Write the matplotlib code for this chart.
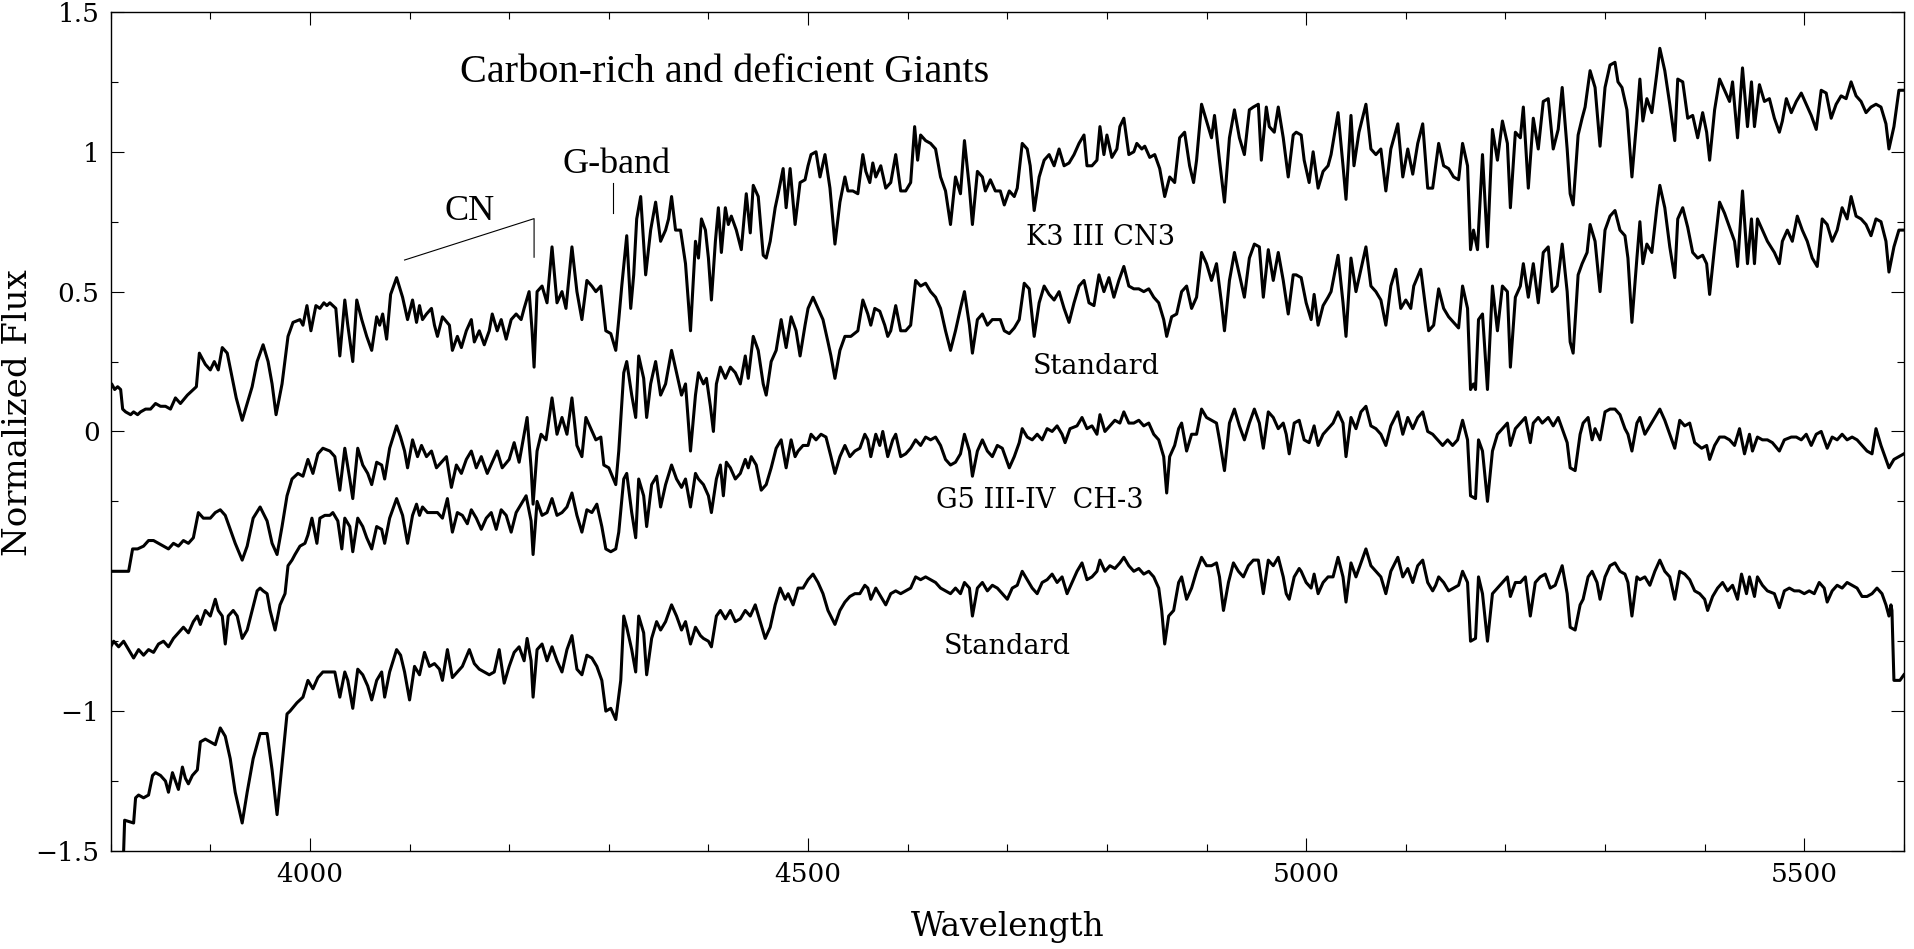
import numpy as np
import matplotlib.pyplot as plt
from matplotlib.ticker import FixedLocator, FixedFormatter, MultipleLocator

# wavelength (A), normalized flux (offset for display)
k3_cn3 = np.array([
    [3798, 0.13], [3801, 0.17], [3804, 0.15], [3807, 0.16], [3810, 0.15], [3812, 0.08], [3815, 0.07],
    [3820, 0.06], [3823, 0.07], [3827, 0.06], [3830, 0.07], [3835, 0.08], [3840, 0.08], [3845, 0.10],
    [3850, 0.09], [3855, 0.09], [3860, 0.08], [3865, 0.12], [3870, 0.10], [3877, 0.13], [3883, 0.15],
    [3886, 0.16], [3889, 0.28], [3895, 0.24], [3900, 0.22], [3904, 0.25], [3908, 0.22], [3912, 0.30],
    [3917, 0.28], [3922, 0.19], [3926, 0.12], [3932, 0.04], [3937, 0.10], [3942, 0.16], [3947, 0.25],
    [3953, 0.31], [3958, 0.25], [3962, 0.17], [3966, 0.06], [3972, 0.17], [3978, 0.34], [3983, 0.39],
    [3990, 0.40], [3993, 0.38], [3997, 0.45], [4001, 0.36], [4006, 0.45], [4010, 0.44], [4014, 0.46],
    [4017, 0.45], [4020, 0.46], [4023, 0.45], [4026, 0.44], [4030, 0.27], [4035, 0.47], [4038, 0.38],
    [4043, 0.25], [4047, 0.47], [4052, 0.40], [4057, 0.34], [4062, 0.29], [4067, 0.41], [4070, 0.38],
    [4073, 0.42], [4077, 0.33], [4081, 0.49], [4087, 0.55], [4093, 0.48], [4098, 0.40], [4103, 0.47],
    [4107, 0.39], [4110, 0.45], [4113, 0.40], [4117, 0.42], [4122, 0.44], [4125, 0.38], [4128, 0.34],
    [4133, 0.41], [4140, 0.38], [4143, 0.29], [4148, 0.34], [4152, 0.30], [4157, 0.36], [4162, 0.40],
    [4165, 0.32], [4170, 0.36], [4175, 0.31], [4180, 0.36], [4183, 0.42], [4188, 0.36], [4192, 0.40],
    [4197, 0.33], [4202, 0.40], [4207, 0.42], [4212, 0.40], [4215, 0.44], [4220, 0.50], [4223, 0.36],
    [4225, 0.23], [4228, 0.50], [4233, 0.52], [4238, 0.46], [4243, 0.66], [4248, 0.46], [4253, 0.50],
    [4257, 0.44], [4263, 0.66], [4268, 0.50], [4273, 0.40], [4278, 0.54], [4283, 0.52], [4287, 0.50],
    [4292, 0.52], [4297, 0.36], [4302, 0.35], [4307, 0.29], [4310, 0.40], [4313, 0.52], [4318, 0.70],
    [4322, 0.44], [4325, 0.56], [4328, 0.76], [4332, 0.84], [4337, 0.56], [4342, 0.72], [4347, 0.82],
    [4352, 0.68], [4357, 0.72], [4360, 0.76], [4363, 0.84], [4367, 0.72], [4372, 0.72], [4377, 0.60],
    [4382, 0.36], [4387, 0.68], [4390, 0.62], [4393, 0.76], [4397, 0.72], [4400, 0.62], [4403, 0.47],
    [4407, 0.68], [4410, 0.80], [4413, 0.64], [4417, 0.80], [4420, 0.74], [4423, 0.77], [4428, 0.72],
    [4433, 0.65], [4438, 0.85], [4442, 0.71], [4445, 0.88], [4450, 0.84], [4455, 0.63], [4458, 0.62],
    [4462, 0.68], [4467, 0.80], [4470, 0.85], [4475, 0.94], [4478, 0.80], [4482, 0.94], [4487, 0.74],
    [4492, 0.89], [4497, 0.90], [4500, 0.95], [4503, 0.99], [4508, 1.00], [4512, 0.91], [4517, 0.99],
    [4522, 0.87], [4527, 0.67], [4532, 0.82], [4537, 0.91], [4540, 0.86], [4545, 0.86], [4550, 0.85],
    [4555, 0.99], [4558, 0.93], [4562, 0.89], [4565, 0.96], [4568, 0.91], [4573, 0.95], [4578, 0.87],
    [4583, 0.89], [4588, 0.99], [4593, 0.86], [4598, 0.86], [4603, 0.89], [4607, 1.09], [4610, 0.97],
    [4613, 1.06], [4618, 1.04], [4623, 1.03], [4628, 1.01], [4633, 0.91], [4638, 0.86], [4643, 0.74],
    [4648, 0.91], [4653, 0.85], [4657, 1.04], [4662, 0.87], [4665, 0.74], [4670, 0.93], [4675, 0.91],
    [4678, 0.86], [4683, 0.90], [4688, 0.86], [4693, 0.86], [4697, 0.81], [4702, 0.86], [4707, 0.84],
    [4710, 0.87], [4715, 1.03], [4720, 1.01], [4723, 0.95], [4727, 0.79], [4732, 0.91], [4737, 0.97],
    [4742, 0.99], [4747, 0.95], [4752, 1.01], [4757, 0.95], [4762, 0.96], [4767, 0.99], [4772, 1.03],
    [4777, 1.06], [4780, 0.95], [4785, 0.95], [4790, 0.97], [4793, 1.09], [4797, 0.99], [4800, 1.06],
    [4805, 0.98], [4810, 1.01], [4813, 1.09], [4817, 1.12], [4822, 0.99], [4827, 1.00], [4830, 1.03],
    [4835, 1.01], [4838, 1.02], [4843, 0.98], [4848, 0.99], [4853, 0.94], [4858, 0.84], [4863, 0.91],
    [4868, 0.89], [4873, 1.05], [4878, 1.07], [4883, 0.95], [4887, 0.89], [4890, 0.97], [4895, 1.17],
    [4900, 1.11], [4905, 1.05], [4908, 1.13], [4913, 0.97], [4918, 0.82], [4923, 1.05], [4928, 1.15],
    [4933, 1.05], [4938, 0.99], [4943, 1.15], [4947, 1.16], [4952, 1.17], [4955, 0.97], [4960, 1.16],
    [4963, 1.09], [4968, 1.07], [4972, 1.16], [4977, 1.05], [4982, 0.91], [4987, 1.06], [4990, 1.07],
    [4995, 1.06], [4998, 0.97], [5003, 0.89], [5007, 1.00], [5012, 0.87], [5017, 0.93], [5022, 0.95],
    [5025, 0.99], [5032, 1.14], [5037, 0.95], [5040, 0.83], [5045, 1.13], [5048, 0.95], [5053, 1.07],
    [5060, 1.17], [5065, 1.01], [5070, 0.99], [5075, 1.01], [5080, 0.86], [5085, 1.01], [5092, 1.10],
    [5097, 0.91], [5102, 1.01], [5107, 0.92], [5112, 1.03], [5117, 1.10], [5122, 0.87], [5127, 0.87],
    [5130, 0.95], [5133, 1.03], [5138, 0.95], [5143, 0.94], [5148, 0.91], [5153, 0.90], [5157, 1.03],
    [5162, 0.95], [5165, 0.65], [5168, 0.72], [5172, 0.65], [5177, 0.99], [5182, 0.66], [5187, 1.08],
    [5192, 0.97], [5197, 1.11], [5202, 1.03], [5205, 0.80], [5210, 1.07], [5215, 1.05], [5218, 1.16],
    [5223, 0.87], [5228, 1.12], [5233, 1.01], [5238, 1.18], [5243, 1.19], [5248, 1.01], [5253, 1.08],
    [5257, 1.23], [5262, 1.01], [5265, 0.85], [5268, 0.81], [5273, 1.06], [5277, 1.12], [5280, 1.16],
    [5285, 1.29], [5290, 1.23], [5295, 1.02], [5300, 1.23], [5305, 1.31], [5310, 1.32], [5313, 1.25],
    [5317, 1.23], [5322, 1.15], [5327, 0.91], [5332, 1.12], [5335, 1.26], [5338, 1.11], [5342, 1.19],
    [5347, 1.14], [5352, 1.28], [5355, 1.37], [5360, 1.29], [5365, 1.17], [5370, 1.04], [5373, 1.26],
    [5378, 1.25], [5383, 1.12], [5388, 1.13], [5393, 1.05], [5398, 1.14], [5402, 1.07], [5405, 0.97],
    [5410, 1.15], [5415, 1.26], [5420, 1.22], [5425, 1.18], [5428, 1.25], [5433, 1.05], [5438, 1.30],
    [5443, 1.09], [5447, 1.25], [5450, 1.09], [5455, 1.24], [5460, 1.18], [5465, 1.19], [5470, 1.12],
    [5475, 1.07], [5478, 1.11], [5482, 1.19], [5487, 1.14], [5492, 1.18], [5497, 1.21], [5502, 1.17],
    [5507, 1.13], [5512, 1.08], [5517, 1.22], [5522, 1.21], [5527, 1.12], [5532, 1.17], [5537, 1.20],
    [5542, 1.19], [5547, 1.25], [5552, 1.20], [5557, 1.18], [5562, 1.14], [5567, 1.16], [5572, 1.17],
    [5577, 1.16], [5582, 1.10], [5585, 1.01], [5590, 1.09], [5595, 1.22], [5600, 1.22],
])

standard_k3 = np.array([
    [3798, -0.50], [3818, -0.50], [3822, -0.42], [3827, -0.42], [3833, -0.41], [3838, -0.39],
    [3843, -0.39], [3848, -0.40], [3853, -0.41], [3858, -0.42], [3863, -0.40], [3868, -0.41],
    [3873, -0.39], [3878, -0.40], [3883, -0.38], [3888, -0.29], [3893, -0.31], [3900, -0.31],
    [3905, -0.29], [3910, -0.28], [3915, -0.30], [3920, -0.35], [3925, -0.40], [3932, -0.46],
    [3937, -0.41], [3943, -0.31], [3950, -0.27], [3957, -0.32], [3962, -0.40], [3967, -0.44],
    [3972, -0.34], [3977, -0.23], [3982, -0.17], [3988, -0.15], [3993, -0.16], [3998, -0.10],
    [4003, -0.15], [4008, -0.08], [4013, -0.06], [4020, -0.07], [4025, -0.09], [4030, -0.21],
    [4035, -0.06], [4040, -0.17], [4043, -0.24], [4048, -0.06], [4053, -0.12], [4058, -0.15],
    [4062, -0.19], [4067, -0.11], [4072, -0.12], [4075, -0.17], [4080, -0.06], [4087, 0.02],
    [4091, -0.02], [4095, -0.07], [4098, -0.13], [4103, -0.03], [4108, -0.09], [4112, -0.05],
    [4117, -0.09], [4122, -0.07], [4127, -0.13], [4132, -0.11], [4137, -0.09], [4142, -0.20],
    [4147, -0.12], [4152, -0.15], [4157, -0.10], [4162, -0.07], [4167, -0.13], [4172, -0.09],
    [4178, -0.15], [4183, -0.11], [4188, -0.07], [4193, -0.13], [4200, -0.10], [4205, -0.04],
    [4210, -0.11], [4215, -0.01], [4218, 0.05], [4222, -0.13], [4224, -0.26], [4228, -0.07],
    [4232, -0.01], [4237, -0.03], [4243, 0.12], [4248, -0.01], [4253, 0.05], [4258, -0.01],
    [4263, 0.12], [4268, -0.05], [4273, -0.09], [4277, 0.05], [4282, 0.01], [4287, -0.03],
    [4292, -0.02], [4295, -0.12], [4300, -0.13], [4307, -0.19], [4310, -0.07], [4315, 0.21],
    [4318, 0.25], [4323, 0.13], [4327, 0.05], [4330, 0.27], [4335, 0.19], [4338, 0.05],
    [4342, 0.17], [4347, 0.25], [4352, 0.13], [4357, 0.17], [4363, 0.29], [4368, 0.21],
    [4373, 0.13], [4377, 0.17], [4382, -0.07], [4387, 0.13], [4390, 0.21], [4395, 0.17],
    [4398, 0.19], [4402, 0.09], [4405, 0.00], [4408, 0.17], [4412, 0.23], [4417, 0.19],
    [4422, 0.23], [4427, 0.21], [4432, 0.17], [4437, 0.27], [4440, 0.19], [4445, 0.34],
    [4450, 0.29], [4455, 0.17], [4458, 0.13], [4463, 0.25], [4468, 0.29], [4473, 0.40],
    [4478, 0.30], [4483, 0.41], [4488, 0.36], [4492, 0.27], [4497, 0.38], [4500, 0.44],
    [4505, 0.48], [4510, 0.44], [4515, 0.40], [4520, 0.32], [4523, 0.27], [4527, 0.19],
    [4532, 0.29], [4537, 0.34], [4543, 0.34], [4550, 0.36], [4555, 0.47], [4560, 0.42],
    [4563, 0.38], [4567, 0.44], [4572, 0.43], [4577, 0.38], [4580, 0.34], [4583, 0.36],
    [4588, 0.45], [4593, 0.36], [4598, 0.36], [4603, 0.38], [4608, 0.54], [4613, 0.52],
    [4618, 0.53], [4623, 0.50], [4628, 0.48], [4633, 0.44], [4638, 0.36], [4643, 0.29],
    [4648, 0.36], [4653, 0.44], [4657, 0.50], [4662, 0.38], [4665, 0.28], [4670, 0.40],
    [4675, 0.42], [4680, 0.38], [4685, 0.40], [4690, 0.40], [4693, 0.40], [4697, 0.36],
    [4702, 0.35], [4707, 0.37], [4712, 0.40], [4717, 0.53], [4722, 0.51], [4727, 0.34],
    [4732, 0.46], [4737, 0.52], [4742, 0.49], [4747, 0.47], [4752, 0.50], [4757, 0.44],
    [4762, 0.39], [4767, 0.46], [4772, 0.52], [4777, 0.54], [4782, 0.46], [4787, 0.45],
    [4792, 0.56], [4797, 0.50], [4802, 0.55], [4807, 0.48], [4812, 0.54], [4817, 0.59],
    [4822, 0.52], [4827, 0.51], [4832, 0.51], [4837, 0.50], [4842, 0.51], [4847, 0.48],
    [4852, 0.46], [4857, 0.40], [4860, 0.34], [4865, 0.41], [4870, 0.42], [4875, 0.50],
    [4880, 0.52], [4885, 0.44], [4890, 0.48], [4895, 0.64], [4900, 0.60], [4905, 0.54],
    [4910, 0.60], [4915, 0.46], [4918, 0.36], [4923, 0.54], [4928, 0.64], [4933, 0.56],
    [4938, 0.48], [4943, 0.62], [4948, 0.67], [4953, 0.66], [4957, 0.48], [4962, 0.65],
    [4967, 0.54], [4972, 0.64], [4977, 0.54], [4982, 0.42], [4987, 0.56], [4990, 0.56],
    [4995, 0.55], [5000, 0.46], [5005, 0.40], [5008, 0.49], [5012, 0.38], [5017, 0.45],
    [5022, 0.48], [5025, 0.50], [5032, 0.63], [5037, 0.46], [5040, 0.34], [5045, 0.62],
    [5050, 0.50], [5055, 0.58], [5060, 0.66], [5065, 0.52], [5070, 0.50], [5075, 0.47],
    [5080, 0.38], [5085, 0.52], [5090, 0.58], [5095, 0.44], [5100, 0.47], [5105, 0.44],
    [5108, 0.52], [5115, 0.58], [5120, 0.44], [5123, 0.36], [5128, 0.38], [5133, 0.51],
    [5138, 0.44], [5143, 0.41], [5148, 0.39], [5153, 0.37], [5157, 0.52], [5162, 0.44],
    [5165, 0.15], [5168, 0.17], [5170, 0.15], [5173, 0.40], [5177, 0.42], [5182, 0.15],
    [5187, 0.52], [5192, 0.36], [5197, 0.52], [5202, 0.50], [5205, 0.23], [5210, 0.48],
    [5215, 0.52], [5218, 0.60], [5223, 0.48], [5228, 0.60], [5233, 0.46], [5238, 0.64],
    [5243, 0.66], [5247, 0.50], [5252, 0.52], [5257, 0.67], [5262, 0.50], [5265, 0.32],
    [5268, 0.28], [5273, 0.56], [5277, 0.60], [5282, 0.64], [5285, 0.74], [5290, 0.68],
    [5295, 0.50], [5300, 0.72], [5305, 0.77], [5310, 0.79], [5315, 0.72], [5320, 0.70],
    [5323, 0.62], [5327, 0.39], [5332, 0.62], [5335, 0.75], [5338, 0.60], [5342, 0.67],
    [5347, 0.64], [5352, 0.80], [5355, 0.88], [5360, 0.80], [5365, 0.66], [5370, 0.55],
    [5373, 0.76], [5378, 0.80], [5383, 0.73], [5388, 0.64], [5393, 0.62], [5398, 0.63],
    [5402, 0.60], [5405, 0.49], [5410, 0.66], [5415, 0.82], [5420, 0.78], [5425, 0.73],
    [5430, 0.68], [5433, 0.59], [5438, 0.86], [5443, 0.60], [5447, 0.76], [5450, 0.60],
    [5453, 0.76], [5458, 0.72], [5463, 0.68], [5470, 0.64], [5475, 0.60], [5478, 0.68],
    [5483, 0.72], [5488, 0.68], [5493, 0.77], [5498, 0.72], [5503, 0.68], [5508, 0.62],
    [5513, 0.59], [5518, 0.76], [5523, 0.74], [5528, 0.68], [5533, 0.72], [5538, 0.80],
    [5543, 0.76], [5547, 0.84], [5552, 0.77], [5557, 0.76], [5562, 0.74], [5567, 0.70],
    [5572, 0.76], [5577, 0.75], [5582, 0.68], [5585, 0.57], [5590, 0.66], [5595, 0.72],
    [5600, 0.72],
])

g5_ch3 = np.array([
    [3798, -0.87], [3800, -0.77], [3803, -0.75], [3808, -0.77], [3813, -0.75], [3818, -0.78],
    [3823, -0.81], [3828, -0.78], [3833, -0.80], [3838, -0.78], [3843, -0.79], [3848, -0.76],
    [3853, -0.75], [3858, -0.77], [3863, -0.74], [3868, -0.72], [3873, -0.70], [3878, -0.72],
    [3883, -0.68], [3887, -0.66], [3890, -0.69], [3895, -0.64], [3900, -0.66], [3905, -0.60],
    [3908, -0.64], [3912, -0.66], [3915, -0.76], [3918, -0.66], [3923, -0.64], [3927, -0.66],
    [3932, -0.74], [3937, -0.71], [3942, -0.64], [3947, -0.57], [3950, -0.56], [3953, -0.57],
    [3957, -0.58], [3960, -0.64], [3965, -0.71], [3970, -0.62], [3975, -0.58], [3978, -0.48],
    [3982, -0.46], [3985, -0.44], [3990, -0.41], [3995, -0.40], [3998, -0.37], [4002, -0.31],
    [4007, -0.40], [4010, -0.31], [4015, -0.30], [4020, -0.30], [4023, -0.29], [4028, -0.32],
    [4032, -0.42], [4035, -0.31], [4040, -0.34], [4043, -0.43], [4048, -0.31], [4053, -0.34],
    [4057, -0.38], [4062, -0.42], [4067, -0.34], [4072, -0.35], [4075, -0.40], [4080, -0.31],
    [4087, -0.24], [4093, -0.30], [4098, -0.40], [4103, -0.30], [4107, -0.26], [4110, -0.30],
    [4113, -0.27], [4118, -0.29], [4123, -0.29], [4128, -0.29], [4133, -0.31], [4138, -0.24],
    [4143, -0.36], [4148, -0.29], [4153, -0.30], [4158, -0.33], [4162, -0.28], [4167, -0.31],
    [4172, -0.35], [4177, -0.31], [4182, -0.29], [4187, -0.35], [4192, -0.28], [4197, -0.30],
    [4202, -0.36], [4207, -0.29], [4212, -0.26], [4217, -0.23], [4222, -0.32], [4224, -0.44],
    [4228, -0.25], [4233, -0.30], [4238, -0.29], [4243, -0.24], [4248, -0.30], [4253, -0.29],
    [4258, -0.27], [4263, -0.22], [4268, -0.30], [4273, -0.36], [4278, -0.28], [4283, -0.29],
    [4288, -0.26], [4293, -0.34], [4297, -0.42], [4302, -0.43], [4307, -0.42], [4310, -0.36],
    [4315, -0.17], [4318, -0.15], [4323, -0.29], [4327, -0.38], [4330, -0.17], [4335, -0.23],
    [4338, -0.34], [4343, -0.19], [4348, -0.16], [4352, -0.27], [4357, -0.19], [4363, -0.12],
    [4368, -0.17], [4373, -0.20], [4377, -0.17], [4382, -0.27], [4387, -0.15], [4390, -0.17],
    [4395, -0.19], [4400, -0.23], [4403, -0.29], [4408, -0.17], [4412, -0.12], [4415, -0.23],
    [4418, -0.11], [4422, -0.13], [4427, -0.17], [4432, -0.15], [4437, -0.10], [4440, -0.13],
    [4443, -0.09], [4448, -0.12], [4453, -0.21], [4458, -0.19], [4463, -0.13], [4468, -0.06],
    [4473, -0.03], [4478, -0.13], [4483, -0.03], [4487, -0.09], [4490, -0.07], [4495, -0.05],
    [4500, -0.05], [4503, -0.01], [4508, -0.03], [4513, -0.01], [4518, -0.02], [4523, -0.09],
    [4527, -0.15], [4532, -0.09], [4537, -0.05], [4542, -0.09], [4547, -0.07], [4552, -0.06],
    [4557, -0.01], [4560, -0.03], [4563, -0.09], [4568, -0.01], [4572, -0.05], [4575, 0.00],
    [4580, -0.09], [4585, -0.03], [4588, -0.01], [4593, -0.09], [4598, -0.08], [4603, -0.06],
    [4608, -0.03], [4613, -0.05], [4618, -0.02], [4623, -0.03], [4628, -0.02], [4633, -0.05],
    [4638, -0.10], [4643, -0.12], [4648, -0.11], [4653, -0.08], [4657, -0.01], [4662, -0.07],
    [4665, -0.16], [4670, -0.07], [4675, -0.03], [4680, -0.07], [4685, -0.09], [4690, -0.05],
    [4695, -0.06], [4698, -0.09], [4702, -0.13], [4707, -0.09], [4712, -0.04], [4715, 0.01],
    [4720, -0.02], [4725, -0.03], [4730, -0.01], [4735, -0.03], [4740, 0.01], [4745, 0.00],
    [4750, 0.02], [4755, -0.01], [4758, -0.04], [4763, 0.01], [4770, 0.02], [4775, 0.05],
    [4780, 0.01], [4785, 0.02], [4790, -0.01], [4793, 0.06], [4798, 0.00], [4803, 0.02],
    [4808, 0.04], [4813, 0.03], [4817, 0.07], [4822, 0.03], [4827, 0.03], [4832, 0.04],
    [4837, 0.02], [4842, 0.03], [4847, -0.01], [4852, -0.03], [4857, -0.09], [4860, -0.22],
    [4863, -0.09], [4868, -0.05], [4872, 0.01], [4875, 0.03], [4880, -0.07], [4885, -0.01],
    [4890, -0.01], [4895, 0.08], [4900, 0.05], [4905, 0.04], [4910, 0.03], [4913, -0.03],
    [4918, -0.14], [4923, 0.03], [4928, 0.08], [4933, 0.02], [4938, -0.03], [4943, 0.03],
    [4948, 0.08], [4953, 0.03], [4957, -0.06], [4962, 0.07], [4967, 0.05], [4972, 0.01],
    [4977, 0.03], [4980, -0.01], [4983, -0.08], [4988, 0.03], [4993, 0.04], [4998, -0.03],
    [5003, -0.04], [5008, 0.02], [5012, -0.05], [5017, -0.01], [5022, 0.01], [5027, 0.03],
    [5032, 0.07], [5037, 0.03], [5040, -0.09], [5045, 0.05], [5050, 0.01], [5055, 0.07],
    [5060, 0.09], [5065, 0.02], [5070, 0.01], [5075, -0.01], [5080, -0.05], [5085, 0.02],
    [5092, 0.07], [5097, -0.01], [5102, 0.05], [5107, 0.01], [5112, 0.05], [5117, 0.07],
    [5122, 0.00], [5127, -0.01], [5132, -0.03], [5137, -0.05], [5142, -0.03], [5147, -0.05],
    [5152, -0.03], [5157, 0.04], [5162, -0.03], [5165, -0.23], [5170, -0.24], [5173, -0.03],
    [5177, -0.07], [5182, -0.25], [5187, -0.07], [5192, -0.01], [5197, 0.01], [5202, 0.03],
    [5205, -0.05], [5210, 0.01], [5215, 0.03], [5220, 0.05], [5225, -0.04], [5228, 0.03],
    [5233, 0.05], [5237, 0.03], [5243, 0.05], [5248, 0.02], [5253, 0.05], [5258, 0.00],
    [5262, -0.04], [5265, -0.13], [5270, -0.14], [5275, -0.01], [5278, 0.03], [5283, 0.05],
    [5287, -0.03], [5290, 0.01], [5295, -0.03], [5300, 0.07], [5305, 0.08], [5310, 0.08],
    [5315, 0.06], [5320, 0.01], [5323, -0.01], [5327, -0.07], [5332, 0.03], [5335, 0.05],
    [5340, -0.01], [5345, 0.02], [5350, 0.05], [5355, 0.08], [5360, 0.04], [5365, -0.01],
    [5370, -0.06], [5375, 0.04], [5380, 0.02], [5385, 0.03], [5390, -0.04], [5397, -0.06],
    [5402, -0.05], [5405, -0.10], [5410, -0.05], [5415, -0.02], [5420, -0.02], [5425, -0.03],
    [5430, -0.05], [5435, 0.01], [5440, -0.08], [5445, -0.01], [5448, -0.07], [5453, -0.02],
    [5458, -0.03], [5463, -0.03], [5468, -0.04], [5475, -0.07], [5480, -0.03], [5487, -0.02],
    [5492, -0.02], [5497, -0.03], [5502, -0.01], [5507, -0.05], [5512, -0.01], [5517, 0.00],
    [5523, -0.06], [5528, -0.02], [5533, -0.03], [5538, -0.01], [5543, -0.03], [5548, -0.02],
    [5553, -0.03], [5558, -0.05], [5563, -0.07], [5568, -0.08], [5572, 0.01], [5577, -0.05],
    [5580, -0.08], [5585, -0.13], [5590, -0.10], [5595, -0.09], [5600, -0.08],
])

standard_g5 = np.array([
    [3813, -1.50], [3814, -1.39], [3823, -1.40], [3825, -1.31], [3828, -1.30], [3833, -1.31],
    [3838, -1.30], [3842, -1.23], [3845, -1.22], [3850, -1.23], [3855, -1.25], [3858, -1.29],
    [3862, -1.22], [3865, -1.25], [3868, -1.28], [3872, -1.20], [3875, -1.24], [3878, -1.26],
    [3882, -1.23], [3887, -1.21], [3890, -1.11], [3895, -1.10], [3900, -1.11], [3905, -1.12],
    [3910, -1.06], [3915, -1.09], [3920, -1.17], [3925, -1.29], [3932, -1.40], [3937, -1.29],
    [3943, -1.17], [3950, -1.08], [3957, -1.08], [3962, -1.21], [3967, -1.37], [3972, -1.19],
    [3977, -1.01], [3980, -1.00], [3987, -0.97], [3993, -0.95], [3998, -0.89], [4003, -0.92],
    [4008, -0.88], [4013, -0.86], [4020, -0.86], [4025, -0.86], [4030, -0.95], [4035, -0.86],
    [4038, -0.89], [4043, -0.99], [4048, -0.85], [4053, -0.87], [4058, -0.91], [4062, -0.96],
    [4067, -0.89], [4072, -0.86], [4075, -0.95], [4080, -0.86], [4087, -0.78], [4091, -0.80],
    [4095, -0.86], [4100, -0.96], [4105, -0.84], [4110, -0.87], [4115, -0.79], [4120, -0.84],
    [4125, -0.83], [4130, -0.85], [4133, -0.89], [4138, -0.78], [4143, -0.88], [4148, -0.86],
    [4153, -0.84], [4160, -0.78], [4165, -0.83], [4170, -0.85], [4175, -0.86], [4180, -0.87],
    [4185, -0.86], [4190, -0.78], [4195, -0.90], [4200, -0.84], [4205, -0.79], [4210, -0.77],
    [4215, -0.82], [4218, -0.74], [4222, -0.82], [4224, -0.95], [4228, -0.78], [4233, -0.76],
    [4238, -0.82], [4243, -0.77], [4248, -0.82], [4253, -0.86], [4258, -0.78], [4263, -0.73],
    [4268, -0.85], [4273, -0.87], [4278, -0.80], [4283, -0.81], [4288, -0.84], [4293, -0.89],
    [4297, -1.00], [4302, -0.99], [4307, -1.03], [4312, -0.89], [4315, -0.66], [4318, -0.70],
    [4323, -0.78], [4327, -0.86], [4330, -0.66], [4335, -0.72], [4338, -0.87], [4343, -0.74],
    [4348, -0.68], [4352, -0.71], [4357, -0.68], [4363, -0.62], [4368, -0.66], [4373, -0.71],
    [4377, -0.68], [4382, -0.76], [4387, -0.70], [4392, -0.73], [4395, -0.74], [4400, -0.75],
    [4403, -0.77], [4408, -0.66], [4412, -0.64], [4417, -0.67], [4422, -0.64], [4427, -0.68],
    [4432, -0.67], [4437, -0.64], [4442, -0.66], [4447, -0.62], [4452, -0.68], [4457, -0.74],
    [4462, -0.70], [4467, -0.62], [4472, -0.56], [4477, -0.60], [4480, -0.58], [4485, -0.62],
    [4490, -0.56], [4495, -0.56], [4500, -0.53], [4505, -0.51], [4510, -0.54], [4515, -0.58],
    [4520, -0.64], [4527, -0.69], [4532, -0.64], [4537, -0.61], [4542, -0.59], [4547, -0.58],
    [4552, -0.58], [4557, -0.55], [4560, -0.56], [4563, -0.60], [4568, -0.56], [4573, -0.59],
    [4578, -0.62], [4583, -0.58], [4588, -0.57], [4593, -0.58], [4598, -0.57], [4603, -0.56],
    [4608, -0.52], [4613, -0.53], [4618, -0.52], [4623, -0.53], [4628, -0.54], [4633, -0.56],
    [4638, -0.57], [4643, -0.58], [4648, -0.56], [4653, -0.58], [4657, -0.54], [4662, -0.56],
    [4665, -0.66], [4670, -0.56], [4675, -0.54], [4680, -0.57], [4685, -0.55], [4690, -0.56],
    [4695, -0.58], [4700, -0.60], [4705, -0.56], [4710, -0.55], [4715, -0.50], [4720, -0.53],
    [4725, -0.56], [4730, -0.58], [4735, -0.54], [4740, -0.53], [4745, -0.51], [4750, -0.54],
    [4755, -0.52], [4760, -0.58], [4765, -0.54], [4770, -0.50], [4775, -0.47], [4780, -0.53],
    [4785, -0.52], [4790, -0.50], [4793, -0.46], [4798, -0.50], [4803, -0.48], [4808, -0.49],
    [4813, -0.47], [4817, -0.45], [4822, -0.48], [4827, -0.50], [4832, -0.49], [4837, -0.51],
    [4842, -0.50], [4847, -0.52], [4852, -0.56], [4855, -0.64], [4858, -0.76], [4862, -0.66],
    [4867, -0.64], [4872, -0.54], [4875, -0.52], [4880, -0.60], [4885, -0.56], [4890, -0.50],
    [4895, -0.45], [4900, -0.48], [4905, -0.48], [4910, -0.47], [4913, -0.52], [4917, -0.64],
    [4922, -0.54], [4927, -0.47], [4932, -0.50], [4937, -0.52], [4942, -0.48], [4947, -0.46],
    [4952, -0.46], [4957, -0.58], [4962, -0.46], [4967, -0.48], [4972, -0.45], [4977, -0.52],
    [4980, -0.58], [4983, -0.60], [4988, -0.52], [4993, -0.49], [4995, -0.50], [5000, -0.54],
    [5005, -0.56], [5008, -0.51], [5012, -0.58], [5017, -0.54], [5022, -0.52], [5027, -0.52],
    [5032, -0.45], [5037, -0.52], [5040, -0.61], [5045, -0.47], [5050, -0.52], [5055, -0.47],
    [5060, -0.42], [5065, -0.48], [5070, -0.50], [5075, -0.52], [5080, -0.58], [5085, -0.50],
    [5092, -0.45], [5097, -0.52], [5102, -0.49], [5107, -0.54], [5112, -0.48], [5117, -0.46],
    [5122, -0.54], [5127, -0.57], [5130, -0.55], [5133, -0.52], [5138, -0.54], [5143, -0.57],
    [5148, -0.56], [5153, -0.55], [5157, -0.50], [5162, -0.54], [5165, -0.75], [5170, -0.74],
    [5173, -0.52], [5177, -0.58], [5182, -0.75], [5187, -0.58], [5192, -0.56], [5197, -0.54],
    [5202, -0.52], [5205, -0.59], [5210, -0.54], [5215, -0.54], [5220, -0.52], [5225, -0.66],
    [5230, -0.54], [5235, -0.52], [5240, -0.51], [5245, -0.56], [5250, -0.55], [5257, -0.48],
    [5262, -0.58], [5265, -0.70], [5270, -0.71], [5275, -0.62], [5278, -0.60], [5283, -0.52],
    [5287, -0.50], [5292, -0.54], [5295, -0.60], [5300, -0.52], [5305, -0.48], [5310, -0.47],
    [5315, -0.50], [5320, -0.51], [5323, -0.54], [5327, -0.66], [5332, -0.52], [5335, -0.53],
    [5340, -0.52], [5345, -0.55], [5350, -0.50], [5355, -0.46], [5360, -0.50], [5365, -0.52],
    [5370, -0.60], [5375, -0.50], [5380, -0.51], [5385, -0.53], [5390, -0.57], [5395, -0.58],
    [5400, -0.60], [5403, -0.64], [5408, -0.59], [5413, -0.56], [5418, -0.54], [5423, -0.57],
    [5428, -0.55], [5433, -0.60], [5437, -0.51], [5442, -0.58], [5445, -0.52], [5450, -0.59],
    [5453, -0.52], [5458, -0.55], [5463, -0.57], [5470, -0.58], [5475, -0.63], [5480, -0.57],
    [5485, -0.56], [5490, -0.57], [5495, -0.57], [5500, -0.58], [5505, -0.57], [5510, -0.58],
    [5515, -0.54], [5520, -0.56], [5523, -0.61], [5528, -0.57], [5533, -0.55], [5538, -0.56],
    [5543, -0.54], [5548, -0.55], [5553, -0.56], [5558, -0.59], [5563, -0.59], [5568, -0.58],
    [5573, -0.56], [5578, -0.58], [5582, -0.62], [5585, -0.66], [5587, -0.62], [5588, -0.64],
    [5590, -0.89], [5593, -0.89], [5596, -0.89], [5600, -0.87],
])

spectra = [k3_cn3, standard_k3, g5_ch3, standard_g5]

x_major = [4000, 4500, 5000, 5500]
y_major = [-1.5, -1.0, -0.5, 0.0, 0.5, 1.0, 1.5]
y_major_labels = ['\u22121.5', '\u22121', '', '0', '0.5', '1', '1.5']

serif = 'DejaVu Serif'
times = 'Liberation Serif'

fig = plt.figure(figsize=(19.15, 9.49), dpi=100)
ax = fig.add_axes([0.0578, 0.1033, 0.9364, 0.8841])

for spec in spectra:
    ax.plot(spec[:, 0], spec[:, 1], color='black', lw=2.2, solid_joinstyle='round')

ax.set_xlim(3800, 5600)
ax.set_ylim(-1.5, 1.5)

ax.xaxis.set_major_locator(FixedLocator(x_major))
ax.xaxis.set_minor_locator(MultipleLocator(100))
ax.yaxis.set_major_locator(FixedLocator(y_major))
ax.yaxis.set_major_formatter(FixedFormatter(y_major_labels))
ax.yaxis.set_minor_locator(MultipleLocator(0.25))

ax.tick_params(which='both', direction='in', top=True, right=True, width=0.8)
ax.tick_params(which='major', length=9.5, labelsize=19, pad=8)
ax.tick_params(which='minor', length=5)
for lab in ax.get_xticklabels() + ax.get_yticklabels():
    lab.set_family(serif)
for sp in ax.spines.values():
    sp.set_linewidth(1.0)

ax.set_xlabel('Wavelength', family=serif, fontsize=23.5)
ax.set_ylabel('Normalized Flux', family=serif, fontsize=24.5)
ax.xaxis.set_label_coords(0.5, -0.071)
ax.yaxis.set_label_coords(-0.043, 0.523)

# annotations
ax.text(4416, 1.248, 'Carbon-rich and deficient Giants', ha='center', va='baseline',
        fontsize=29, family=times)
ax.text(4160, 0.757, 'CN', ha='center', va='baseline', fontsize=26, family=times)
ax.plot([4095, 4225, 4225], [0.613, 0.761, 0.623], color='black', lw=0.8)
ax.text(4308, 0.924, 'G-band', ha='center', va='baseline', fontsize=26, family=times)
ax.plot([4304, 4304], [0.78, 0.889], color='black', lw=0.8)

ax.text(4794, 0.668, 'K3 III CN3', ha='center', va='baseline', fontsize=19.5, family=serif)
ax.text(4789, 0.206, 'Standard', ha='center', va='baseline', fontsize=19.5, family=serif)
ax.text(4733, -0.275, 'G5 III-IV  CH-3', ha='center', va='baseline', fontsize=19.5, family=serif)
ax.text(4700, -0.796, 'Standard', ha='center', va='baseline', fontsize=19.5, family=serif)

plt.savefig('out.png', dpi=100)
